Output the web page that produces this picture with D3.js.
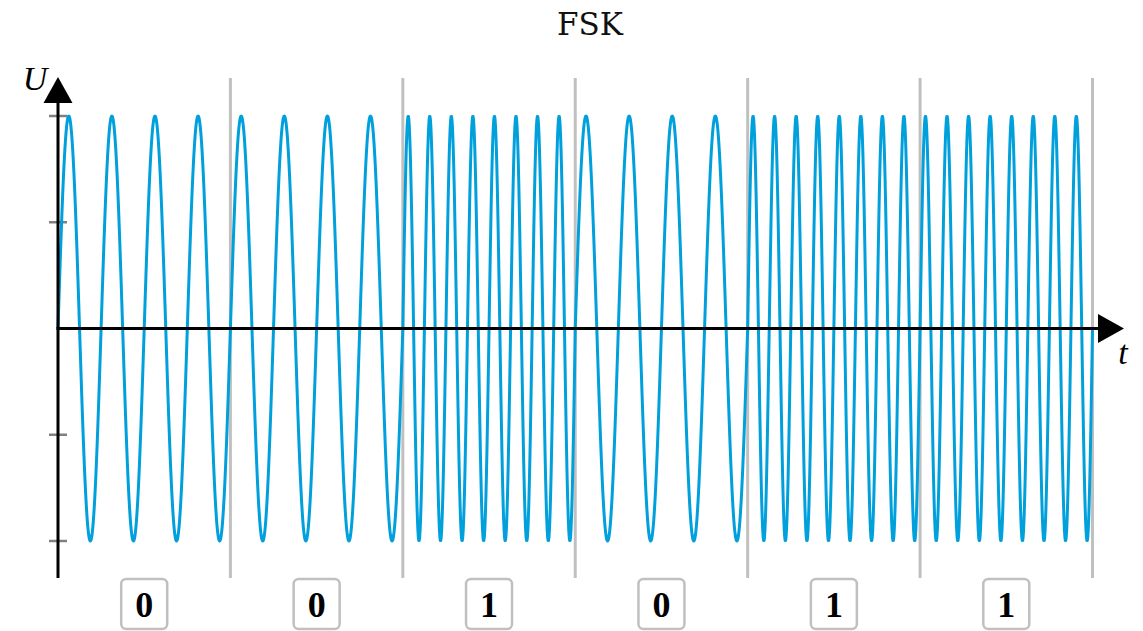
<!DOCTYPE html>
<html>
<head>
<meta charset="utf-8">
<script src="https://cdn.jsdelivr.net/npm/d3@7"></script>
<style>
  html, body { margin: 0; padding: 0; background: #fff; }
  svg { display: block; }
</style>
</head>
<body>
<svg id="chart" width="1143" height="631"></svg>
<script>
// ---- data ----
const bits = [0, 0, 1, 0, 1, 1];
const bitLabels = ["0", "0", "1", "0", "1", "1"];
const cyclesPerBit = [4, 8];           // cycles per bit period for bit 0 and bit 1
const yTicks = [-1, -0.5, 0, 0.5, 1];
const title = "FSK";

// ---- layout ----
const svg = d3.select("#chart");
const x = d3.scaleLinear().domain([0, bits.length]).range([58, 1092.5]);
const y = d3.scaleLinear().domain([-1, 1]).range([541, 116]);

const blue = "#00a0dc";
const gray = "#c0c0c0";

// title
svg.append("text").attr("x", 590).attr("y", 35).attr("text-anchor", "middle")
  .attr("font-family", "'DejaVu Serif', serif").attr("font-size", 31).attr("fill", "#111")
  .text(title);

// waveform samples: each bit period sampled finely
const samples = [];
let phase = 0;
bits.forEach((b, i) => {
  const n = 400;
  const f = cyclesPerBit[b];
  for (let k = 0; k <= n; k++) {
    if (k === 0 && i > 0) continue;
    const t = k / n;
    samples.push({ t: i + t, v: Math.sin(phase + 2 * Math.PI * f * t) });
  }
  phase += 2 * Math.PI * f;
});

// gray bit separators
svg.append("g").selectAll("line").data(d3.range(1, bits.length + 1)).join("line")
  .attr("x1", d => x(d)).attr("x2", d => x(d))
  .attr("y1", 78).attr("y2", 578)
  .attr("stroke", gray).attr("stroke-width", 3);

// y ticks (gray)
svg.append("g").selectAll("line").data(yTicks.filter(d => d !== 0)).join("line")
  .attr("x1", 49).attr("x2", 67)
  .attr("y1", d => y(d)).attr("y2", d => y(d))
  .attr("stroke", "#808080").attr("stroke-width", 2.5);

// waveform
const line = d3.line().x(d => x(d.t)).y(d => y(d.v)).curve(d3.curveLinear);
svg.append("path").datum(samples).attr("d", line)
  .attr("fill", "none").attr("stroke", blue).attr("stroke-width", 3)
  .attr("stroke-linejoin", "round");

// axes
svg.append("line").attr("x1", x(0)).attr("x2", x(0)).attr("y1", 578).attr("y2", 100)
  .attr("stroke", "#000").attr("stroke-width", 3);
svg.append("path").attr("d", `M${x(0)},77 L${x(0) - 14.5},103 L${x(0) + 14.5},103 Z`).attr("fill", "#000");
svg.append("line").attr("x1", x(0) - 1.5).attr("x2", 1100).attr("y1", y(0)).attr("y2", y(0))
  .attr("stroke", "#000").attr("stroke-width", 3);
svg.append("path").attr("d", `M1124,${y(0)} L1098,${y(0) - 14.5} L1098,${y(0) + 14.5} Z`).attr("fill", "#000");

// axis labels
svg.append("text").attr("x", 35).attr("y", 90).attr("text-anchor", "middle")
  .attr("font-family", "'Liberation Serif', serif").attr("font-style", "italic").attr("font-size", 34)
  .text("U");
svg.append("text").attr("x", 1123).attr("y", 364).attr("text-anchor", "middle")
  .attr("font-family", "'Liberation Serif', serif").attr("font-style", "italic").attr("font-size", 34)
  .text("t");

// bit label boxes
const lab = svg.append("g").selectAll("g").data(bitLabels).join("g")
  .attr("transform", (d, i) => `translate(${x(i + 0.5)},0)`);
lab.append("rect").attr("x", -23).attr("y", 579).attr("width", 46).attr("height", 50)
  .attr("rx", 5).attr("fill", "#fff").attr("stroke", gray).attr("stroke-width", 2.5);
lab.append("text").attr("x", 0).attr("y", 617).attr("text-anchor", "middle")
  .attr("font-family", "'Liberation Serif', serif").attr("font-weight", "bold").attr("font-size", 36)
  .attr("fill", "#000").text(d => d);
</script>
</body>
</html>
